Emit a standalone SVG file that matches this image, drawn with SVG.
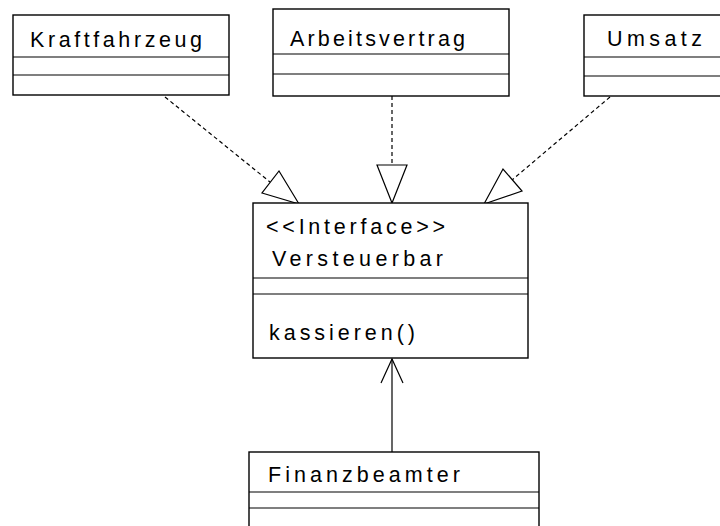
<svg xmlns="http://www.w3.org/2000/svg" width="720" height="526" viewBox="0 0 720 526">
  <style>
    .box { fill: #ffffff; stroke: #000000; stroke-width: 1.4; }
    .sep { stroke: #000000; stroke-width: 1.2; fill: none; }
    .lbl { font-family: "Liberation Sans", Arial, sans-serif; font-size: 21.5px; fill: #000000; }
    .dash { stroke: #000000; stroke-width: 1.2; stroke-dasharray: 4,3; fill: none; }
    .solid { stroke: #000000; stroke-width: 1.2; fill: none; }
    .head { fill: #ffffff; stroke: #000000; stroke-width: 1.2; stroke-linejoin: miter; }
  </style>
  <rect width="720" height="526" fill="#ffffff"/>

  <g id="connectors">
    <!-- realization: Kraftfahrzeug -> Versteuerbar -->
    <line class="dash" x1="165" y1="97" x2="270" y2="182"/>
    <polygon class="head" points="299,204 279,171 262,193"/>
    <!-- realization: Arbeitsvertrag -> Versteuerbar -->
    <line class="dash" x1="392" y1="96" x2="392" y2="165"/>
    <polygon class="head" points="392,203 377,165 407,165"/>
    <!-- realization: Umsatz -> Versteuerbar -->
    <line class="dash" x1="610" y1="97" x2="512" y2="180"/>
    <polygon class="head" points="484,204 503,169 522,191"/>
    <!-- dependency: Finanzbeamter -> Versteuerbar -->
    <line class="solid" x1="392" y1="452" x2="392" y2="359"/>
    <polyline class="solid" points="381,383 392,359 403,383"/>
  </g>

  <g id="kraftfahrzeug">
    <rect class="box" x="13" y="15" width="216" height="80"/>
    <line class="sep" x1="13" y1="57" x2="229" y2="57"/>
    <line class="sep" x1="13" y1="75" x2="229" y2="75"/>
    <text class="lbl" x="30" y="47" textLength="172" lengthAdjust="spacing">Kraftfahrzeug</text>
  </g>

  <g id="arbeitsvertrag">
    <rect class="box" x="273" y="9" width="236" height="87"/>
    <line class="sep" x1="273" y1="54" x2="509" y2="54"/>
    <line class="sep" x1="273" y1="74" x2="509" y2="74"/>
    <text class="lbl" x="290" y="46" textLength="175" lengthAdjust="spacing">Arbeitsvertrag</text>
  </g>

  <g id="umsatz">
    <rect class="box" x="584" y="15" width="150" height="81"/>
    <line class="sep" x1="584" y1="57" x2="734" y2="57"/>
    <line class="sep" x1="584" y1="76" x2="734" y2="76"/>
    <text class="lbl" x="607" y="46" textLength="95" lengthAdjust="spacing">Umsatz</text>
  </g>

  <g id="versteuerbar">
    <rect class="box" x="253" y="203" width="275" height="155"/>
    <line class="sep" x1="253" y1="278" x2="528" y2="278"/>
    <line class="sep" x1="253" y1="294" x2="528" y2="294"/>
    <text class="lbl" x="266" y="234" textLength="179" lengthAdjust="spacing">&lt;&lt;Interface&gt;&gt;</text>
    <text class="lbl" x="272" y="266" textLength="171" lengthAdjust="spacing">Versteuerbar</text>
    <text class="lbl" x="269" y="340" textLength="146" lengthAdjust="spacing">kassieren()</text>
  </g>

  <g id="finanzbeamter">
    <rect class="box" x="249" y="452" width="290" height="90"/>
    <line class="sep" x1="249" y1="492" x2="539" y2="492"/>
    <line class="sep" x1="249" y1="508" x2="539" y2="508"/>
    <text class="lbl" x="268" y="482" textLength="192" lengthAdjust="spacing">Finanzbeamter</text>
  </g>
</svg>
